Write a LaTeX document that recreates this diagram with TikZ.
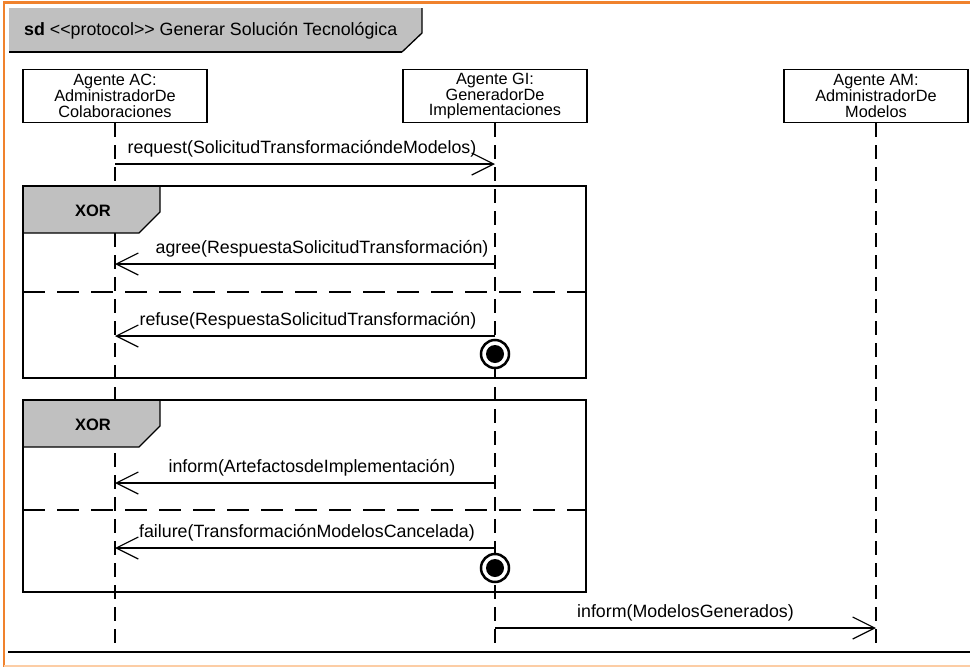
\documentclass[tikz,border=0pt]{standalone}
\usepackage{fontspec}
\setmainfont{Liberation Sans}
\usetikzlibrary{arrows.meta}
\definecolor{brandorange}{RGB}{240,130,45}
\definecolor{paleorange}{RGB}{252,205,165}
\definecolor{tabgray}{RGB}{192,192,192}
\begin{document}
\begin{tikzpicture}[x=1pt,y=-1pt,
  font=\fontsize{17.8}{19}\selectfont,
  agent/.style={draw,line width=1.4pt,fill=white,minimum width=184pt,minimum height=53pt,
    align=center,inner sep=0pt,font=\fontsize{16.3}{15.8}\selectfont},
  lifeline/.style={line width=1.5pt,dash pattern=on 14pt off 8pt},
  frameline/.style={line width=2pt},
  separator/.style={line width=1.5pt,dash pattern=on 22pt off 12pt},
  msg/.style={line width=1.1pt,-{Straight Barb[length=22pt,width=22pt,line width=1.2pt]}},
  msglabel/.style={inner sep=0pt,anchor=base,yshift=11pt},
  tabfill/.style={fill=tabgray,draw,line width=1.2pt},
  xorlabel/.style={anchor=base east,inner sep=0pt,font=\fontsize{16.5}{17}\selectfont\bfseries},
  terminator/.style={circle,draw,line width=2.5pt,minimum size=28pt,inner sep=0pt,fill=white},
]
\useasboundingbox (0,0) rectangle (970,667);
\fill[white] (0,0) rectangle (970,667);

% page decoration
\draw[brandorange,line width=2.5pt] (3,2.5) -- (970,2.5);
\draw[brandorange,line width=2.5pt] (4,1.5) -- (4,667);
\draw[paleorange,line width=2pt] (4,665.5) -- (970,665.5);

% diagram header tab
\path[fill=tabgray] (9,8) -- (422,8) -- (422,33) -- (402,52) -- (9,52) -- cycle;
\draw[line width=1.3pt] (422,8) -- (422,33) -- (402,52);
\draw[line width=2.5pt] (9,52) -- (402,52);
\node[anchor=base west,inner sep=0pt] (title) at (24,35)
  {\textbf{sd} {<}{<}protocol{>}{>} Generar Solución Tecnológica};

% agents
\node[agent] (ac) at (115,96) {Agente AC:\\AdministradorDe\\Colaboraciones};
\node[agent] (gi) at (495,96) {Agente GI:\\GeneradorDe\\Implementaciones};
\node[agent] (am) at (876,96) {Agente AM:\\AdministradorDe\\Modelos};

% lifeline ends
\coordinate (acend) at (115,652);
\coordinate (giend) at (495,652);
\coordinate (amend) at (876,652);
\draw[lifeline] (ac.south) -- (acend);
\draw[lifeline] (gi.south) -- (giend);
\draw[lifeline] (am.south) -- (amend);

% request
\coordinate (r1) at (115,164);
\coordinate (r2) at (495,164);
\draw[msg] (r1) -- (r2) node[msglabel,pos=0.5,xshift=-3pt] (lreq) {request(SolicitudTransformacióndeModelos)};

% first XOR fragment
\coordinate (f1a) at (23,186);
\coordinate (f1b) at (586,378);
\draw[tabfill] (23,186) -- (160,186) -- (160,212) -- (139,233) -- (23,233) -- cycle;
\node[xorlabel] (xor1) at (111,216) {XOR};
\draw[frameline] (f1a) rectangle (f1b);
\draw[separator] (23,292) -- (586,292);
\coordinate (a1) at (495,264);
\coordinate (a2) at (115,264);
\draw[msg] (a1) -- (a2) node[msglabel,pos=0.5,xshift=17pt] (lagree) {agree(RespuestaSolicitudTransformación)};
\coordinate (b1) at (495,336);
\coordinate (b2) at (115,336);
\draw[msg] (b1) -- (b2) node[msglabel,pos=0.5,xshift=3pt] (lrefuse) {refuse(RespuestaSolicitudTransformación)};
\node[terminator] (t1) at (495,354) {};
\fill (t1.center) circle (9pt);

% second XOR fragment
\coordinate (f2a) at (23,400);
\coordinate (f2b) at (586,592);
\draw[tabfill] (23,400) -- (160,400) -- (160,426) -- (139,447) -- (23,447) -- cycle;
\node[xorlabel] (xor2) at (111,430) {XOR};
\draw[frameline] (f2a) rectangle (f2b);
\draw[separator] (23,510) -- (586,510);
\coordinate (c1) at (495,483);
\coordinate (c2) at (115,483);
\draw[msg] (c1) -- (c2) node[msglabel,pos=0.5,xshift=7pt] (linform) {inform(ArtefactosdeImplementación)};
\coordinate (d1) at (495,548);
\coordinate (d2) at (115,548);
\draw[msg] (d1) -- (d2) node[msglabel,pos=0.5,xshift=2pt] (lfail) {failure(TransformaciónModelosCancelada)};
\node[terminator] (t2) at (495,568) {};
\fill (t2.center) circle (9pt);

% final message
\coordinate (e1) at (495,628);
\coordinate (e2) at (876,628);
\draw[msg] (e1) -- (e2) node[msglabel,pos=0.5] (lmod) {inform(ModelosGenerados)};

% diagram bottom edge
\draw[line width=2.5pt] (8,652) -- (970,652);
\end{tikzpicture}
\end{document}
